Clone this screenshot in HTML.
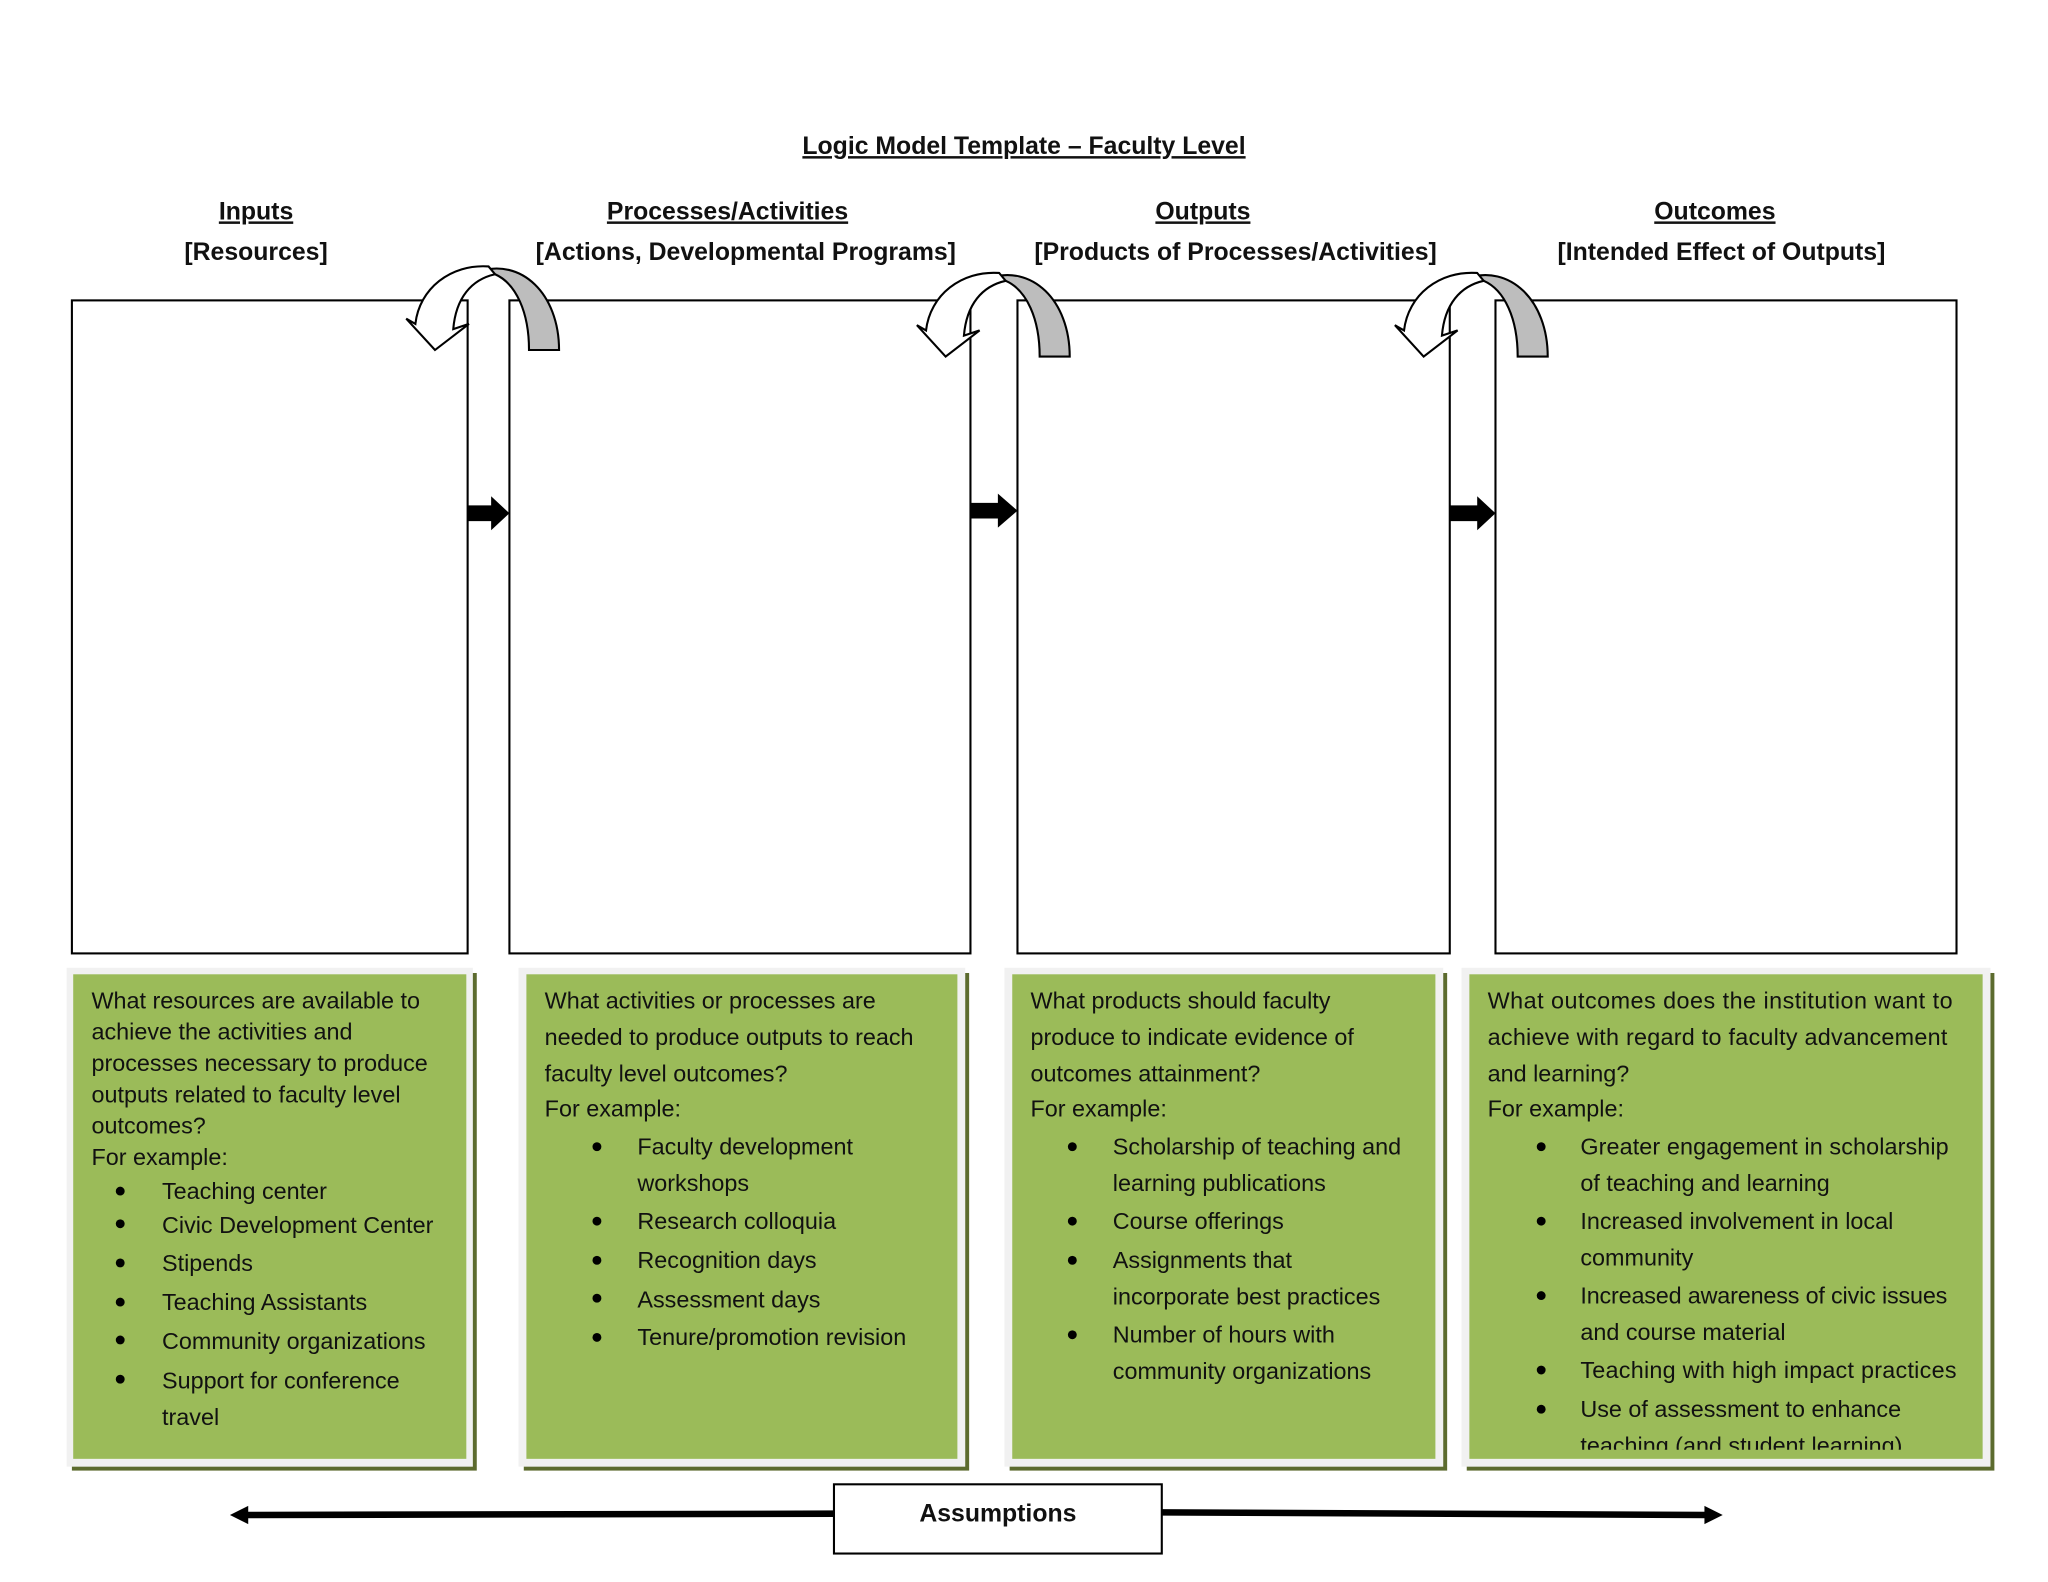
<!DOCTYPE html>
<html><head><meta charset="utf-8"><style>
html,body{margin:0;padding:0;background:#fff;}
svg{display:block;}
text{font-family:"Liberation Sans",sans-serif;fill:#111;}
.h{font-weight:bold;font-size:19px;text-anchor:middle;}
.t{font-size:17.9px;}
</style></head><body>
<svg width="2048" height="1582" viewBox="0 0 1568 1211.3" xmlns="http://www.w3.org/2000/svg">
<defs>
<clipPath id="c4"><rect x="1125" y="746" width="393" height="364"/></clipPath>
<g id="curl">
<path d="M757 213 C790 202 819 230 819 273 L796 273 C796 244 786 222 770 215 Z" fill="#bdbdbd" stroke="#000" stroke-width="1.6"/>
<path d="M765 209 C736 207 712 226 709 253 L702 249 L724 273 L750 253 L738 257 C740 233 752 219 770 215 Z" fill="#fff" stroke="#000" stroke-width="1.6"/>
</g>
</defs>
<text class="h" x="784" y="118" text-decoration="underline">Logic Model Template – Faculty Level</text>
<g class="h">
<text class="h" x="196" y="168" text-decoration="underline">Inputs</text>
<text class="h" x="196" y="199">[Resources]</text>
<text class="h" x="557" y="168" text-decoration="underline">Processes/Activities</text>
<text class="h" x="571" y="199">[Actions, Developmental Programs]</text>
<text class="h" x="921" y="168" text-decoration="underline">Outputs</text>
<text class="h" x="946" y="199">[Products of Processes/Activities]</text>
<text class="h" x="1313" y="168" text-decoration="underline">Outcomes</text>
<text class="h" x="1318" y="199">[Intended Effect of Outputs]</text>
</g>
<g fill="#fff" stroke="#000" stroke-width="1.6">
<rect x="55" y="230" width="303" height="500"/>
<rect x="390" y="230" width="353" height="500"/>
<rect x="779" y="230" width="331" height="500"/>
<rect x="1145" y="230" width="353" height="500"/>
</g>
<g fill="#000">
<path d="M358 387 L376 387 L376 380 L390 393 L376 406 L376 399 L358 399 Z"/>
<path d="M743 385 L764 385 L764 378 L779 391 L764 404 L764 397 L743 397 Z"/>
<path d="M1110 387 L1131 387 L1131 380 L1145 393 L1131 406 L1131 399 L1110 399 Z"/>
</g>
<use href="#curl" transform="translate(-391,-5)"/>
<use href="#curl"/>
<use href="#curl" transform="translate(366,0)"/>
<g>
<rect x="55" y="745" width="310" height="381" fill="#5c6b2e"/>
<rect x="51" y="741" width="311" height="382" fill="#f1f1f1"/>
<rect x="56" y="746" width="301" height="371" fill="#9bbb59"/>
<rect x="401" y="745" width="341" height="381" fill="#5c6b2e"/>
<rect x="397" y="741" width="342" height="382" fill="#f1f1f1"/>
<rect x="403" y="746" width="330" height="371" fill="#9bbb59"/>
<rect x="773" y="745" width="335" height="381" fill="#5c6b2e"/>
<rect x="769" y="741" width="336" height="382" fill="#f1f1f1"/>
<rect x="775" y="746" width="324" height="371" fill="#9bbb59"/>
<rect x="1123" y="745" width="404" height="381" fill="#5c6b2e"/>
<rect x="1119" y="741" width="405" height="382" fill="#f1f1f1"/>
<rect x="1125" y="746" width="393" height="371" fill="#9bbb59"/>
</g>
<g fill="#000">
<circle cx="92" cy="912" r="3.4"/><circle cx="92" cy="937" r="3.4"/><circle cx="92" cy="967" r="3.4"/><circle cx="92" cy="997" r="3.4"/><circle cx="92" cy="1026" r="3.4"/><circle cx="92" cy="1056" r="3.4"/>
<circle cx="457" cy="878" r="3.4"/><circle cx="457" cy="935" r="3.4"/><circle cx="457" cy="965" r="3.4"/><circle cx="457" cy="994" r="3.4"/><circle cx="457" cy="1024" r="3.4"/>
<circle cx="821" cy="878" r="3.4"/><circle cx="821" cy="935" r="3.4"/><circle cx="821" cy="965" r="3.4"/><circle cx="821" cy="1022" r="3.4"/>
<circle cx="1180" cy="878" r="3.4"/><circle cx="1180" cy="935" r="3.4"/><circle cx="1180" cy="992" r="3.4"/><circle cx="1180" cy="1049" r="3.4"/><circle cx="1180" cy="1079" r="3.4"/>
</g>
<g class="t">
<text class="t" x="70" y="772">What resources are available to</text>
<text class="t" x="70" y="796">achieve the activities and</text>
<text class="t" x="70" y="820">processes necessary to produce</text>
<text class="t" x="70" y="844">outputs related to faculty level</text>
<text class="t" x="70" y="868">outcomes?</text>
<text class="t" x="70" y="892">For example:</text>
<text class="t" x="124" y="918">Teaching center</text>
<text class="t" x="124" y="944">Civic Development Center</text>
<text class="t" x="124" y="973">Stipends</text>
<text class="t" x="124" y="1003">Teaching Assistants</text>
<text class="t" x="124" y="1033">Community organizations</text>
<text class="t" x="124" y="1063">Support for conference</text>
<text class="t" x="124" y="1091">travel</text>

<text class="t" x="417" y="772">What activities or processes are</text>
<text class="t" x="417" y="800">needed to produce outputs to reach</text>
<text class="t" x="417" y="828">faculty level outcomes?</text>
<text class="t" x="417" y="855">For example:</text>
<text class="t" x="488" y="884">Faculty development</text>
<text class="t" x="488" y="912">workshops</text>
<text class="t" x="488" y="941">Research colloquia</text>
<text class="t" x="488" y="971">Recognition days</text>
<text class="t" x="488" y="1001">Assessment days</text>
<text class="t" x="488" y="1030">Tenure/promotion revision</text>

<text class="t" x="789" y="772">What products should faculty</text>
<text class="t" x="789" y="800">produce to indicate evidence of</text>
<text class="t" x="789" y="828">outcomes attainment?</text>
<text class="t" x="789" y="855">For example:</text>
<text class="t" x="852" y="884">Scholarship of teaching and</text>
<text class="t" x="852" y="912">learning publications</text>
<text class="t" x="852" y="941">Course offerings</text>
<text class="t" x="852" y="971">Assignments that</text>
<text class="t" x="852" y="999">incorporate best practices</text>
<text class="t" x="852" y="1028">Number of hours with</text>
<text class="t" x="852" y="1056">community organizations</text>

<g clip-path="url(#c4)">
<text class="t" x="1139" y="772" textLength="356">What outcomes does the institution want to</text>
<text class="t" x="1139" y="800" textLength="352">achieve with regard to faculty advancement</text>
<text class="t" x="1139" y="828">and learning?</text>
<text class="t" x="1139" y="855">For example:</text>
<text class="t" x="1210" y="884" textLength="282">Greater engagement in scholarship</text>
<text class="t" x="1210" y="912">of teaching and learning</text>
<text class="t" x="1210" y="941">Increased involvement in local</text>
<text class="t" x="1210" y="969">community</text>
<text class="t" x="1210" y="998" textLength="281">Increased awareness of civic issues</text>
<text class="t" x="1210" y="1026">and course material</text>
<text class="t" x="1210" y="1055" textLength="288">Teaching with high impact practices</text>
<text class="t" x="1210" y="1085">Use of assessment to enhance</text>
<text class="t" x="1210" y="1113">teaching (and student learning)</text>
</g>
</g>
<line x1="186" y1="1160" x2="640" y2="1159" stroke="#000" stroke-width="5"/>
<path d="M176 1160 L190 1153 L190 1167 Z" fill="#000"/>
<line x1="889" y1="1158" x2="1308" y2="1160" stroke="#000" stroke-width="5"/>
<path d="M1319 1160 L1305 1153 L1305 1167 Z" fill="#000"/>
<rect x="638.5" y="1136.5" width="251" height="53" fill="#fff" stroke="#000" stroke-width="1.6"/>
<text class="h" x="764" y="1165">Assumptions</text>
</svg>
</body></html>
